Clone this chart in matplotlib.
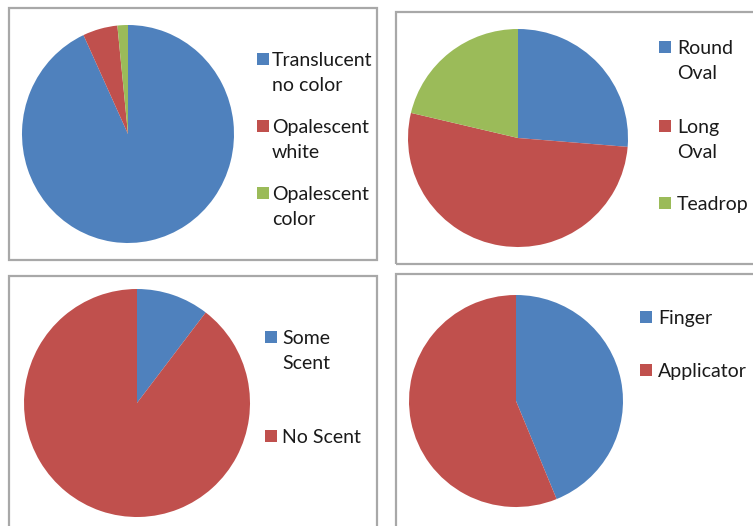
import matplotlib.pyplot as plt
from matplotlib.patches import Rectangle

W, H = 753, 526
blue, red, green = "#4F81BD", "#C0504D", "#9BBB59"

# datos de cada grafico
finish_labels = ["Translucent\nno color", "Opalescent\nwhite", "Opalescent\ncolor"]
finish_values = [93.1, 5.3, 1.6]
shape_labels = ["Round\nOval", "Long\nOval", "Teadrop"]
shape_values = [26.3, 52.4, 21.3]
scent_labels = ["Some\nScent", "No Scent"]
scent_values = [10.4, 89.6]
use_labels = ["Finger", "Applicator"]
use_values = [43.8, 56.2]

plt.rcParams['font.family'] = ['Lato', 'DejaVu Sans']

fig = plt.figure(figsize=(W / 100, H / 100), dpi=100)
fig.patch.set_facecolor("white")


def fx(x):
    return x / W


def fy(y):
    return 1 - y / H


# paneles: caja, centro, radios, valores, etiquetas, colores, leyenda
panels = [
    dict(box=(9, 8, 377, 260), c=(128, 134), r=(106, 109),
         values=finish_values, labels=finish_labels, colors=[blue, red, green],
         sq_x=257, tx=272, base=[66, 133, 200]),
    dict(box=(396, 12, 770, 264), c=(518, 138), r=(110, 109),
         values=shape_values, labels=shape_labels, colors=[blue, red, green],
         sq_x=659, tx=677, base=[54, 133, 210]),
    dict(box=(9, 276, 377, 540), c=(137, 403), r=(113, 114),
         values=scent_values, labels=scent_labels, colors=[blue, red],
         sq_x=265, tx=282, base=[344, 443]),
    dict(box=(396, 274, 770, 540), c=(516, 401), r=(107, 106),
         values=use_values, labels=use_labels, colors=[blue, red],
         sq_x=640, tx=658, base=[324, 377]),
]

line_h = 25
sq = 12

for p in panels:
    x0, y0, x1, y1 = p["box"]
    fig.patches.append(Rectangle((fx(x0), fy(y1)), fx(x1 - x0), (y1 - y0) / H,
                                 transform=fig.transFigure, fill=False,
                                 edgecolor="#A8A8A8", linewidth=1.6))
    cx, cy = p["c"]
    rx, ry = p["r"]
    ax = fig.add_axes([fx(cx - rx), fy(cy + ry), 2 * rx / W, 2 * ry / H])
    ax.pie(p["values"], colors=p["colors"], startangle=90, counterclock=False,
           radius=1, wedgeprops=dict(linewidth=0))
    ax.set_xlim(-1, 1)
    ax.set_ylim(-1, 1)
    ax.set_aspect("auto")
    ax.axis("off")

    for lab, col, b in zip(p["labels"], p["colors"], p["base"]):
        fig.patches.append(Rectangle((fx(p["sq_x"]), fy(b - 1)), sq / W, sq / H,
                                     transform=fig.transFigure, facecolor=col,
                                     edgecolor="none"))
        for i, line in enumerate(lab.split("\n")):
            fig.text(fx(p["tx"]), fy(b + i * line_h), line, fontsize=14,
                     color="#1A1A1A", va="baseline", ha="left")

fig.savefig("out.png", dpi=100)
